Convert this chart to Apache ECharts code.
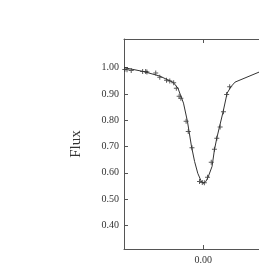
<!DOCTYPE html>
<html>
<head>
<meta charset="utf-8">
<script src="https://cdn.jsdelivr.net/npm/echarts@6/dist/echarts.min.js"></script>
<style>
  html, body { margin: 0; padding: 0; background: #fff; }
  #chart { width: 259px; height: 273px; }
</style>
</head>
<body>
<div id="chart"></div>
<script>
// model light curve
var modelX = [-0.100, -0.075, -0.055, -0.038, -0.032, -0.025, -0.020, -0.015, -0.011, -0.007, -0.003, 0.000, 0.003, 0.006, 0.011, 0.014, 0.017, 0.025, 0.030, 0.035, 0.040, 0.0702];
var modelY = [1.000, 0.985, 0.968, 0.944, 0.922, 0.865, 0.795, 0.702, 0.643, 0.598, 0.570, 0.560, 0.566, 0.583, 0.624, 0.687, 0.732, 0.833, 0.903, 0.928, 0.945, 0.983];
// observed points
var obsX = [-0.0990, -0.0962, -0.0909, -0.0765, -0.0727, -0.0711, -0.0600, -0.0549, -0.0464, -0.0423, -0.0374, -0.0340, -0.0305, -0.0283, -0.0217, -0.0190, -0.0143, -0.0048, -0.0013, 0.0013, 0.0053, 0.0100, 0.0140, 0.0170, 0.0212, 0.0254, 0.0294, 0.0332];
var obsY = [0.993, 0.992, 0.989, 0.985, 0.985, 0.983, 0.980, 0.963, 0.952, 0.949, 0.943, 0.922, 0.891, 0.884, 0.796, 0.757, 0.695, 0.567, 0.563, 0.562, 0.583, 0.640, 0.690, 0.731, 0.774, 0.832, 0.898, 0.927];
var yTicks = [0.4, 0.5, 0.6, 0.7, 0.8, 0.9, 1.0];
var xTicks = [0];

var font = 'Liberation Serif';
var axisCol = '#555';

function pairs(xs, ys) {
    var out = [];
    for (var i = 0; i < xs.length; i++) out.push([xs[i], ys[i]]);
    return out;
}

var chart = echarts.init(document.getElementById('chart'));
var option = {
    animation: false,
    backgroundColor: '#fff',
    grid: { left: 124, right: 0, top: 39, bottom: 24 },
    xAxis: [{
        type: 'value',
        min: -0.1,
        max: 0.0702,
        splitLine: { show: false },
        axisLine: { show: true, onZero: false, lineStyle: { color: axisCol } },
        axisTick: { show: true, inside: true, length: 4, customValues: xTicks, lineStyle: { color: axisCol } },
        axisLabel: {
            customValues: xTicks,
            margin: 6,
            color: '#333',
            fontFamily: font,
            fontSize: 10,
            formatter: function (v) { return v.toFixed(2); }
        }
    }, {
        type: 'value',
        position: 'top',
        min: -0.1,
        max: 0.0702,
        splitLine: { show: false },
        axisLine: { show: true, onZero: false, lineStyle: { color: axisCol } },
        axisTick: { show: true, inside: true, length: 4, customValues: xTicks, lineStyle: { color: axisCol } },
        axisLabel: { show: false }
    }],
    yAxis: {
        type: 'value',
        min: 0.31,
        max: 1.109,
        splitLine: { show: false },
        axisLine: { show: true, onZero: false, lineStyle: { color: axisCol } },
        axisTick: { show: true, inside: true, length: 4, customValues: yTicks, lineStyle: { color: axisCol } },
        axisLabel: {
            customValues: yTicks,
            margin: 5,
            color: '#333',
            fontFamily: font,
            fontSize: 10,
            formatter: function (v) { return v.toFixed(2); }
        }
    },
    graphic: [{
        type: 'text',
        x: 76,
        y: 144,
        rotation: Math.PI / 2,
        style: {
            text: 'Flux',
            font: '15px "Liberation Serif"',
            fill: '#333',
            align: 'center',
            verticalAlign: 'middle'
        }
    }],
    series: [{
        type: 'line',
        data: pairs(modelX, modelY),
        showSymbol: false,
        lineStyle: { color: '#333', width: 1 },
        silent: true
    }, {
        type: 'scatter',
        data: pairs(obsX, obsY),
        symbol: 'path://M4,0h2v4h4v2h-4v4h-2v-4h-4v-2h4z',
        symbolSize: 5,
        itemStyle: { color: '#333' },
        silent: true
    }]
};
chart.setOption(option);
</script>
</body>
</html>
